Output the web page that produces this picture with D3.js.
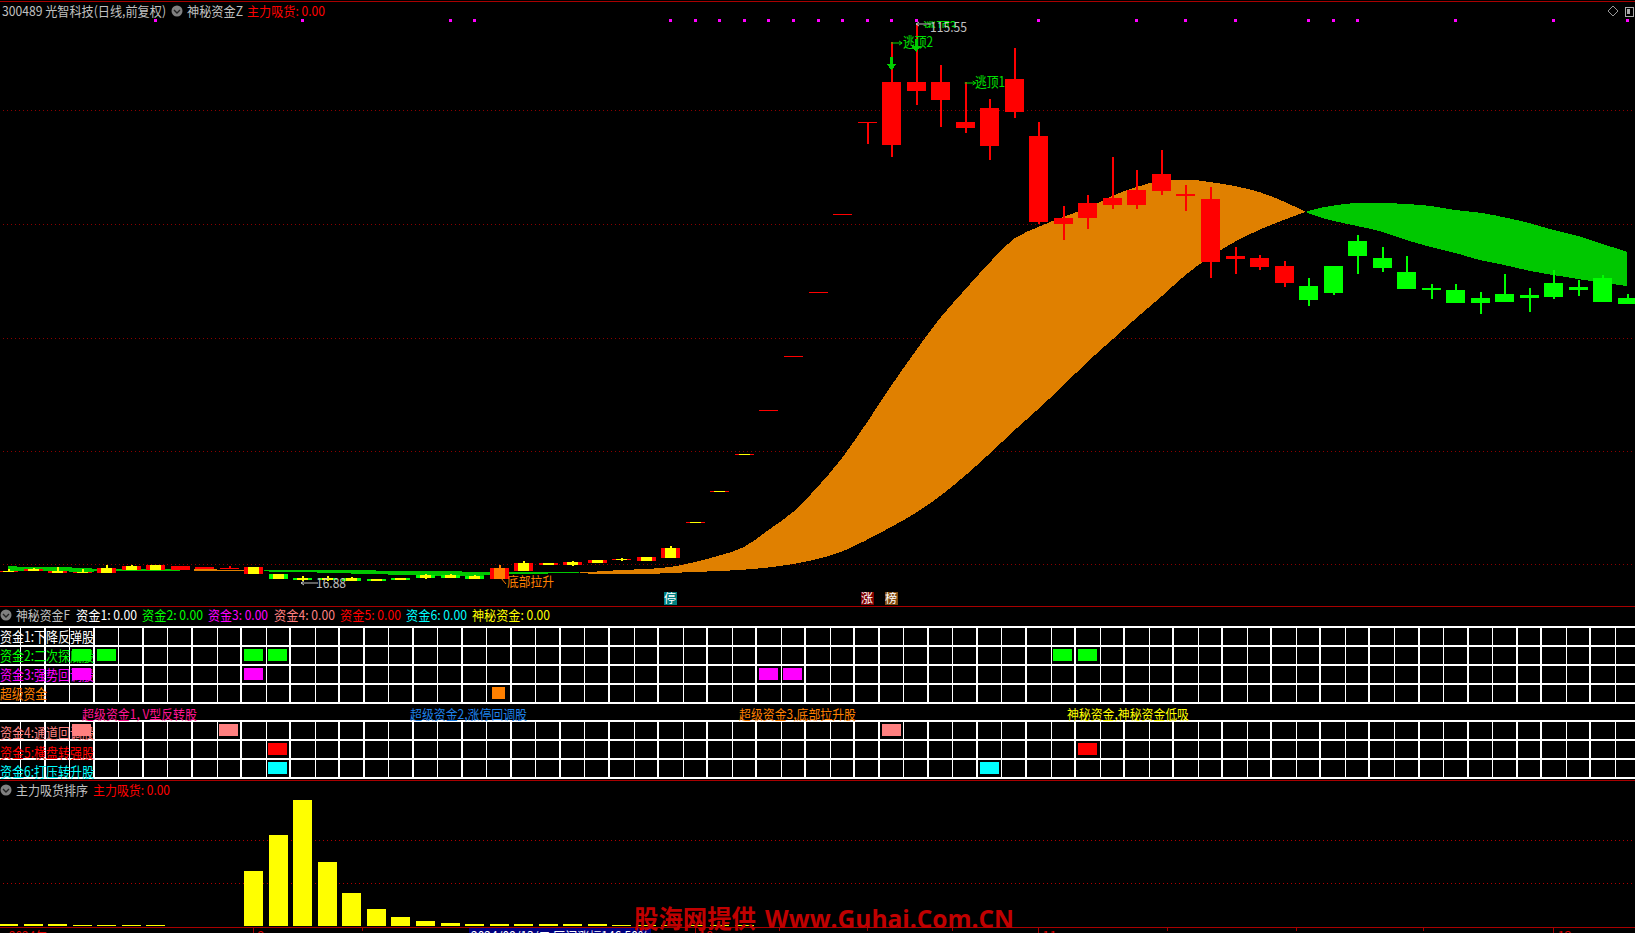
<!DOCTYPE html>
<html><head><meta charset="utf-8">
<style>html,body{margin:0;padding:0;background:#000;overflow:hidden}svg{display:block}
text{font-family:"Noto Sans CJK SC","Liberation Sans",sans-serif}</style>
<script src="https://d3js.org/d3.v7.min.js"></script></head><body><svg id="c" width="1635" height="933"></svg>
<script>
// ---- candles, in chart levels of the main panel (log-price chart without a printed axis)
const candleOpen =[34.3,35,33.3,33.3,33,36,36,36,37,37,32,32,28,28,28,27,28,31,31,30,27,35,41,41,43,46,45,48,83,114,151,195,249,313,391,483,461,515,506,478,460,494,384,382,388,401,401,415,410,344,347,339,323,320,340,365,348,334,318,316,308,312,311,323,319,328,308];
const candleClose=[35.3,37,35,34.3,38,40,41,40,39,38,39,27,26,26,25,25,26,28,28,27,38,43,43,44,46,47,49,58,84,115,152,196,250,314,392,484,524,524,524,484,498,527,470,388,403,408,416,432,412,407,350,348,340,306,313,350,338,317,316,303,303,304,308,309,316,304,302];
const candleHigh =[36.7,38,38.7,36.7,41,41,41,40,39,40,39,32,30,30,29,27,28,32,32,31,41,45,43,45,46,48.3,49,60,84,115,152,196,250,314,392,484,564,582,541,524,507,558,484,400,411,449,436,456,421,419,359,351,345,328,340,371,359,350,322,322,314,332,318,336,326,331,312];
const candleLow  =[34,35,33,33,33,36,36,36,37,37,32,27,25,25,25,25,26,27,28,27,27,35,41,40,43,45,45,48,83,114,151,195,249,313,391,462,449,501,479,473,446,488,382,366,377,397,397,411,395,328,332,336,319,300,311,332,334,317,307,303,292,304,294,307,310,304,302];
const yellowMarked=[0,1,2,3,4,5,6,10,11,12,13,14,15,16,17,18,19,21,22,23,24,25,26,27,28,29,30];
const orangeMarked=[20];
// ---- moving-average ribbon
const fastLine=[35,35,35,34,35,35,35.5,35.5,37,36,36,34,34,33,32.5,32,31,30.5,30,30,31.5,32,32.5,33,34.5,36,37,39,44,50.5,59,76,94,119,148,183,220,255,288,316,343,367,379,389,398,410,419,425,426.5,424,420,414,404.5,393,385.3,380,374.3,366,359,353,346,341,335.3,331,327,323.3,320];
const slowLine=[40,39,39,38,37,37,37,36.5,35,35,35,36,36,36,36,35.5,35,35,35,34,34,34,34,34,32,32,32,33,34,35,36.3,38.5,42,47,54.5,66,79,93,110,130,152,175,197,220,244,266,288,309,331,349,364,376,386,395,400.3,403,403,402,400,396,393.3,388.7,383,376,370,362,354.3];
const mainGridLevels=[41.7,155,268.4,381.7,495.7];
const dotIndex=[6,12,18,19,27,28,29,30,31,32,33,34,35,36,37,42,46,48,50,53,54,55,59,63,66];
// ---- signal table
const upperRowNames=["资金1:下降反弹股","资金2:二次探底股","资金3:强势回调股","超级资金"];
const lowerRowNames=["资金4:通道回调股","资金5:横盘转强股","资金6:打压转升股"];
const signalsRow2=[3,4,10,11,43,44];
const signalsRow3=[3,10,31,32];
const signalsSuper=[20];
const signalsRow4=[3,9,36];
const signalsRow5=[11,44];
const signalsRow6=[11,40];
// ---- accumulation bars
const barIndex=[0,1,2,3,4,5,6,10,11,12,13,14,15,16,17,18,19,20,21,22,23,24,25,26,27,28,29,30];
const barValue=[5,5,5,2.5,2.5,2.5,2.5,128,212,293,149,77,40,21,12,7,5,5,5,5,5,5,2.5,2.5,2.5,2.5,2.5,2.5];
const barGridLevels=[100,200];
const monthTicks=[[10,"9"],[28,"10"],[42,"11"],[63,"12"]];
const minorTicks=[14.45,31.45,35,38.5,47.25,52.5,57.7];
const legendF=[["资金1: 0.00","#fff"],["资金2: 0.00","#0f0"],["资金3: 0.00","#f0f"],["资金4: 0.00","#ff8080"],["资金5: 0.00","#f00"],["资金6: 0.00","#0ff"],["神秘资金: 0.00","#ff0"]];

const svg=d3.select("#c");
const RED="#ff0000",GRN="#00ff00",LINE="#a80000",GRAY="#c0c0c0";
const x=d3.scaleLinear().domain([0,66]).range([8,1627]);
const y=d3.scaleLinear().domain([0,606]).range([606,0]);
const yBar=d3.scaleLinear().domain([0,300]).range([926,797]);
const crisp=g=>g.attr("shape-rendering","crispEdges");

function label(t,x0,x1,yc,color,fs=13,extra){
  const n=svg.append("text").attr("x",x0).attr("y",yc+fs*0.38).attr("fill",color).attr("font-size",fs).text(t);
  if(x1) n.attr("textLength",x1-x0).attr("lengthAdjust","spacingAndGlyphs");
  if(extra) extra(n);
  return n;
}
function hline(py,col){svg.append("line").attr("x1",0).attr("x2",1635).attr("y1",py).attr("y2",py).attr("stroke",col).attr("stroke-width",1).attr("shape-rendering","crispEdges");}
function dotted(py,col){svg.append("line").attr("x1",3).attr("x2",1635).attr("y1",py).attr("y2",py).attr("stroke",col).attr("stroke-width",1).attr("stroke-dasharray","1 3").attr("shape-rendering","crispEdges");}
function icon(cx,cy){
  svg.append("circle").attr("cx",cx).attr("cy",cy).attr("r",5.5).attr("fill","#808080");
  svg.append("path").attr("d",`M${cx-3} ${cy-1}L${cx} ${cy+2}L${cx+3} ${cy-1}`).attr("fill","none").attr("stroke","#222").attr("stroke-width",1.4);
}

// panel borders
hline(1.5,LINE);hline(606.5,LINE);hline(780.5,LINE);hline(927.5,LINE);

// main grid
mainGridLevels.forEach(l=>dotted(Math.round(y(l))+.5,"#8c0000"));

// ribbon: split into orange / green runs at crossings
const n=fastLine.length;
let runs=[],cur=null;
for(let i=0;i<n;i++){
  const up=fastLine[i]>=slowLine[i];
  if(!cur){cur={up,pts:[{i,f:fastLine[i],s:slowLine[i]}]};continue;}
  if(up!==cur.up){
    const d0=fastLine[i-1]-slowLine[i-1],d1=fastLine[i]-slowLine[i],t=d0/(d0-d1);
    const v=fastLine[i-1]+t*(fastLine[i]-fastLine[i-1]);
    const p={i:i-1+t,f:v,s:v};
    cur.pts.push(p);runs.push(cur);cur={up,pts:[p]};
  }
  cur.pts.push({i,f:fastLine[i],s:slowLine[i]});
}
runs.push(cur);
const area=d3.area().x(d=>x(d.i)).y0(d=>y(d.s)).y1(d=>y(d.f)).curve(d3.curveMonotoneX);
crisp(svg.append("g")).selectAll("path").data(runs).join("path").attr("d",d=>area(d.pts)).attr("fill",d=>d.up?"#e08000":"#00c800");

// candles
const gC=crisp(svg.append("g"));
const idx=d3.range(candleOpen.length);
const isUp=i=>candleClose[i]>=candleOpen[i];
const mark=i=>yellowMarked.includes(i)?"#ffff00":orangeMarked.includes(i)?"#ff8000":null;
gC.selectAll("rect.w").data(idx).join("rect").attr("class","w")
  .attr("x",i=>Math.round(x(i))).attr("width",1.5)
  .attr("y",i=>y(candleHigh[i])).attr("height",i=>y(candleLow[i])-y(candleHigh[i]))
  .attr("fill",i=>mark(i)||(isUp(i)?RED:GRN));
gC.selectAll("rect.b").data(idx).join("rect").attr("class","b")
  .attr("x",i=>Math.round(x(i))-9).attr("width",19)
  .attr("y",i=>y(Math.max(candleOpen[i],candleClose[i])))
  .attr("height",i=>Math.max(1,Math.abs(candleOpen[i]-candleClose[i])))
  .attr("fill",i=>isUp(i)?RED:GRN);
gC.selectAll("rect.m").data(idx.filter(mark)).join("rect").attr("class","m")
  .attr("x",i=>Math.round(x(i))-5).attr("width",11)
  .attr("y",i=>y(Math.max(candleOpen[i],candleClose[i])))
  .attr("height",i=>Math.max(1,Math.abs(candleOpen[i]-candleClose[i])))
  .attr("fill",mark);

// magenta dots
crisp(svg.append("g")).selectAll("rect").data(dotIndex).join("rect")
  .attr("x",i=>Math.round(x(i))-1).attr("y",19).attr("width",3).attr("height",3).attr("fill","#ff00ff");

// annotations
function conn(i,len){
  const px=x(i),py=y(candleHigh[i]);
  svg.append("path").attr("d",`M${px} ${py+1}H${px+len}M${px+len-3} ${py-1}L${px+len} ${py+1}L${px+len-3} ${py+3}`).attr("fill","none").attr("stroke","#00e000").attr("stroke-width",1);
}
function down(i){
  const px=x(i)+.5,py=y(candleHigh[i])+15;
  crisp(svg.append("path")).attr("d",`M${px-1.5} ${py}h3v7h3.5l-5 6l-5 -6h3.5z`).attr("fill","#00d000");
}
conn(36,11);label("逃顶2",903,933,42,"#00e000",14);down(36);
conn(39,11);label("逃顶1",975,1005,82,"#00e000",14);
svg.append("clipPath").attr("id","cut").append("rect").attr("x",900).attr("y",21).attr("width",80).attr("height",7);
label("逃顶3",923,957,27,"#00e000",14,t=>t.attr("clip-path","url(#cut)"));down(37);
svg.append("path").attr("d","M916 24H931M919 22L916 24L919 26").attr("fill","none").attr("stroke",GRAY);
label("115.55",930,967,27,GRAY,13);
svg.append("path").attr("d","M301 583H318M304 581L301 583L304 585").attr("fill","none").attr("stroke",GRAY);
label("16.88",316,346,583,GRAY,13);
svg.append("path").attr("d","M501 578L506 584").attr("stroke","#ff8000").attr("fill","none");
label("底部拉升",507,554,581,"#ff8000",13);
function badge(i,t,bg){
  const px=Math.round(x(i));
  crisp(svg.append("rect")).attr("x",px-6.5).attr("y",592).attr("width",13).attr("height",13).attr("fill",bg);
  svg.append("text").attr("x",px).attr("y",603).attr("text-anchor","middle").attr("font-size",12).attr("fill","#fff").text(t);
}
badge(27,"停","#008080");badge(35,"涨","#800000");badge(36,"榜","#804a10");

// header
label("300489 光智科技(日线,前复权)",2,166,11,GRAY,13);
icon(177,11);label("神秘资金Z",187,243,11,GRAY,13);
label("主力吸货: 0.00",247,325,11,RED,13);
svg.append("path").attr("d","M1613 6l5 5l-5 5l-5 -5z").attr("fill","none").attr("stroke","#999");
crisp(svg.append("rect")).attr("x",1625).attr("y",7).attr("width",8).attr("height",9).attr("fill","none").attr("stroke","#aaa");
crisp(svg.append("rect")).attr("x",1627).attr("y",9).attr("width",3).attr("height",5).attr("fill","#aaa");

// panel 2 legend
icon(6,615);label("神秘资金F",16,70,615,GRAY,13);
const legX=[76,142,208,274,340,406,472],legW=[61,61,60,61,61,61,78];
legendF.forEach((d,i)=>label(d[0],legX[i],legX[i]+legW[i],615,d[1],13));

// tables
const yU=d3.scaleLinear().domain([0,4]).range([626,702]);
const yL=d3.scaleLinear().domain([0,3]).range([720,777]);
const edge=i=>x(i)-12.25;
const thick=i=>(i<=14&&i%2===0)||(i>14&&i<=35&&i%2===1)||(i>=36&&i<=62&&i%2===0)||(i>62&&i%2===1);
function table(sc,rows){
  const g=crisp(svg.append("g"));
  g.selectAll("line.h").data(d3.range(rows+1)).join("line").attr("class","h").attr("x1",0).attr("x2",1635)
    .attr("y1",r=>Math.round(sc(r))+1).attr("y2",r=>Math.round(sc(r))+1).attr("stroke","#fff").attr("stroke-width",2);
  g.selectAll("line.v").data(d3.range(0,68)).join("line").attr("class","v")
    .attr("x1",i=>Math.round(edge(i))+(thick(i)?0:.5)).attr("x2",i=>Math.round(edge(i))+(thick(i)?0:.5))
    .attr("y1",sc(0)).attr("y2",sc(rows)+1).attr("stroke","#fff").attr("stroke-width",i=>thick(i)?2:1);
}
table(yU,4);table(yL,3);
upperRowNames.forEach((t,r)=>label(t,0,r===3?47:94,yU(r+.5)+1.5,["#fff","#0f0","#f0f","#ff8000"][r],14));
lowerRowNames.forEach((t,r)=>label(t,0,94,yL(r+.5)+3.5+r*.5,["#ff8080","#f00","#0ff"][r],14));
function cells(list,sc,r,col,w=19){
  crisp(svg.append("g")).selectAll("rect").data(list).join("rect")
    .attr("x",i=>Math.round(x(i)-w/2)).attr("width",w)
    .attr("y",Math.round(sc(r))+4).attr("height",12).attr("fill",col);
}
cells(signalsRow2,yU,1,"#00ff00");cells(signalsRow3,yU,2,"#ff00ff");cells(signalsSuper,yU,3,"#ff8000",13);
cells(signalsRow4,yL,0,"#ff8080");cells(signalsRow5,yL,1,"#ff0000");cells(signalsRow6,yL,2,"#00ffff");
label("超级资金1, V型反转股",82,197,714,"#ff1493",13);
label("超级资金2,涨停回调股",410,527,714,"#1e80e8",13);
label("超级资金3,底部拉升股",739,856,714,"#ff8000",13);
label("神秘资金,神秘资金低吸",1067,1189,714,"#ffff00",13);

// bottom panel
icon(6,790);label("主力吸货排序",16,88,790,GRAY,13);label("主力吸货: 0.00",93,170,790,RED,13);
barGridLevels.forEach(v=>dotted(Math.round(yBar(v))+.5,"#b00000"));
crisp(svg.append("g")).selectAll("rect").data(barIndex).join("rect")
  .attr("x",(d,k)=>Math.round(x(d))-9.5).attr("width",19)
  .attr("y",(d,k)=>yBar(barValue[k])).attr("height",(d,k)=>yBar(0)-yBar(barValue[k])).attr("fill","#ffff00");

// time axis, clipped by the window edge
const gT=crisp(svg.append("g")).attr("stroke",LINE);
gT.selectAll("line.t").data(monthTicks).join("line").attr("class","t").attr("x1",d=>Math.round(x(d[0]))).attr("x2",d=>Math.round(x(d[0]))).attr("y1",928).attr("y2",933);
gT.selectAll("line.m").data(minorTicks).join("line").attr("class","m").attr("x1",d=>Math.round(x(d))).attr("x2",d=>Math.round(x(d))).attr("y1",928).attr("y2",931);
svg.selectAll("text.mt").data(monthTicks).join("text").attr("class","mt").attr("x",d=>x(d[0])+4).attr("y",941).attr("fill","#e00000").attr("font-size",13).text(d=>d[1]);
label("2024年",9,47,936,"#e00000",13);
crisp(svg.append("rect")).attr("x",469).attr("y",928).attr("width",182).attr("height",5).attr("fill","#000080");
label("2024/08/13/二 区间涨幅146.50%",471,649,936,"#fff",13);

// watermark
label("股海网提供",634,756,918,"#c00000",25,n=>n.attr("font-weight",700));
label("Www.Guhai.Com.CN",765,1014,918,"#c00000",25,n=>n.attr("font-weight",700).style("font-family","'Open Sans','Liberation Sans',sans-serif"));
</script></body></html>
